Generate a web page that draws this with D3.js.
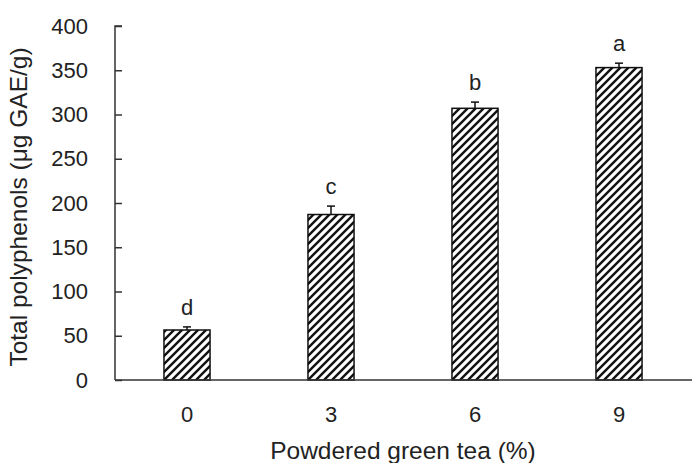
<!DOCTYPE html>
<meta charset="utf-8">
<title>Total polyphenols</title>
<style>
body { margin: 0; background: #fff; }
svg { display: block; font-family: "Liberation Sans", Arial, sans-serif; }
.tick text { fill: #222; }
</style>
<svg width="692" height="463"></svg>
<script src="https://d3js.org/d3.v7.min.js"></script>
<script>
// data
const doses = ["0", "3", "6", "9"];
const polyphenols = [56.5, 187, 307, 353];
const errors = [3.5, 9.5, 7, 5];
const letters = ["d", "c", "b", "a"];
const yTicks = [0, 50, 100, 150, 200, 250, 300, 350, 400];

const svg = d3.select("svg");
const mLeft = 115, mRight = 691, mTop = 26, mBottom = 380;

const x = d3.scaleBand().domain(doses).range([mLeft, mRight]).paddingInner(0.68).paddingOuter(0.34);
const y = d3.scaleLinear().domain([0, 400]).range([mBottom, mTop]);

// diagonal hatch
const defs = svg.append("defs");
const pat = defs.append("pattern")
  .attr("id", "hatch")
  .attr("patternUnits", "userSpaceOnUse")
  .attr("width", 8).attr("height", 8);
pat.append("rect").attr("width", 8).attr("height", 8).attr("fill", "#fff");
pat.append("path")
  .attr("d", "M-2,2 l4,-4 M0,8 l8,-8 M6,10 l4,-4")
  .attr("stroke", "#111").attr("stroke-width", 2.4);

// y axis
const yAxis = svg.append("g")
  .attr("transform", `translate(${mLeft},0)`)
  .call(d3.axisRight(y).tickValues(yTicks).tickSize(7).tickFormat(d3.format("d")));
yAxis.select(".domain").attr("stroke", "#333").attr("stroke-width", 1.5).attr("d", `M7,${mTop}H0V${mBottom}`);
yAxis.selectAll(".tick line").attr("stroke", "#333").attr("stroke-width", 1.5);
yAxis.selectAll(".tick text")
  .attr("x", -27).attr("text-anchor", "end")
  .attr("font-size", 22);

// bars
svg.append("g").selectAll("rect")
  .data(polyphenols)
  .join("rect")
  .attr("x", (d, i) => x(doses[i]))
  .attr("y", d => y(d))
  .attr("width", x.bandwidth())
  .attr("height", d => y(0) - y(d))
  .attr("fill", "url(#hatch)")
  .attr("stroke", "#111")
  .attr("stroke-width", 1.5);

// error bars (upper only)
const eb = svg.append("g").attr("stroke", "#111").attr("stroke-width", 1.5);
polyphenols.forEach((v, i) => {
  const cx = x(doses[i]) + x.bandwidth() / 2;
  eb.append("line").attr("x1", cx).attr("x2", cx).attr("y1", y(v)).attr("y2", y(v + errors[i]));
  eb.append("line").attr("x1", cx - 4).attr("x2", cx + 4).attr("y1", y(v + errors[i])).attr("y2", y(v + errors[i]));
});

// significance letters
svg.append("g").selectAll("text")
  .data(letters)
  .join("text")
  .attr("x", (d, i) => x(doses[i]) + x.bandwidth() / 2)
  .attr("y", (d, i) => y(polyphenols[i] + errors[i]) - 12)
  .attr("text-anchor", "middle")
  .attr("font-size", 22)
  .attr("fill", "#222")
  .text(d => d);

// x axis (line only, no ticks)
const xAxis = svg.append("g")
  .attr("transform", `translate(0,${mBottom})`)
  .call(d3.axisBottom(x).tickSize(0).tickPadding(0));
xAxis.select(".domain").attr("stroke", "#333").attr("stroke-width", 1.5).attr("d", `M${mLeft},0H${mRight + 1}`);
xAxis.selectAll(".tick text").attr("dy", null).attr("y", 42).attr("font-size", 22);

// axis titles
svg.append("text")
  .attr("x", 403).attr("y", 459)
  .attr("text-anchor", "middle")
  .attr("font-size", 24.5).attr("fill", "#222")
  .text("Powdered green tea (%)");

svg.append("text")
  .attr("transform", "translate(27,207) rotate(-90)")
  .attr("text-anchor", "middle")
  .attr("font-size", 24.5).attr("fill", "#222")
  .text("Total polyphenols (μg GAE/g)");
</script>
